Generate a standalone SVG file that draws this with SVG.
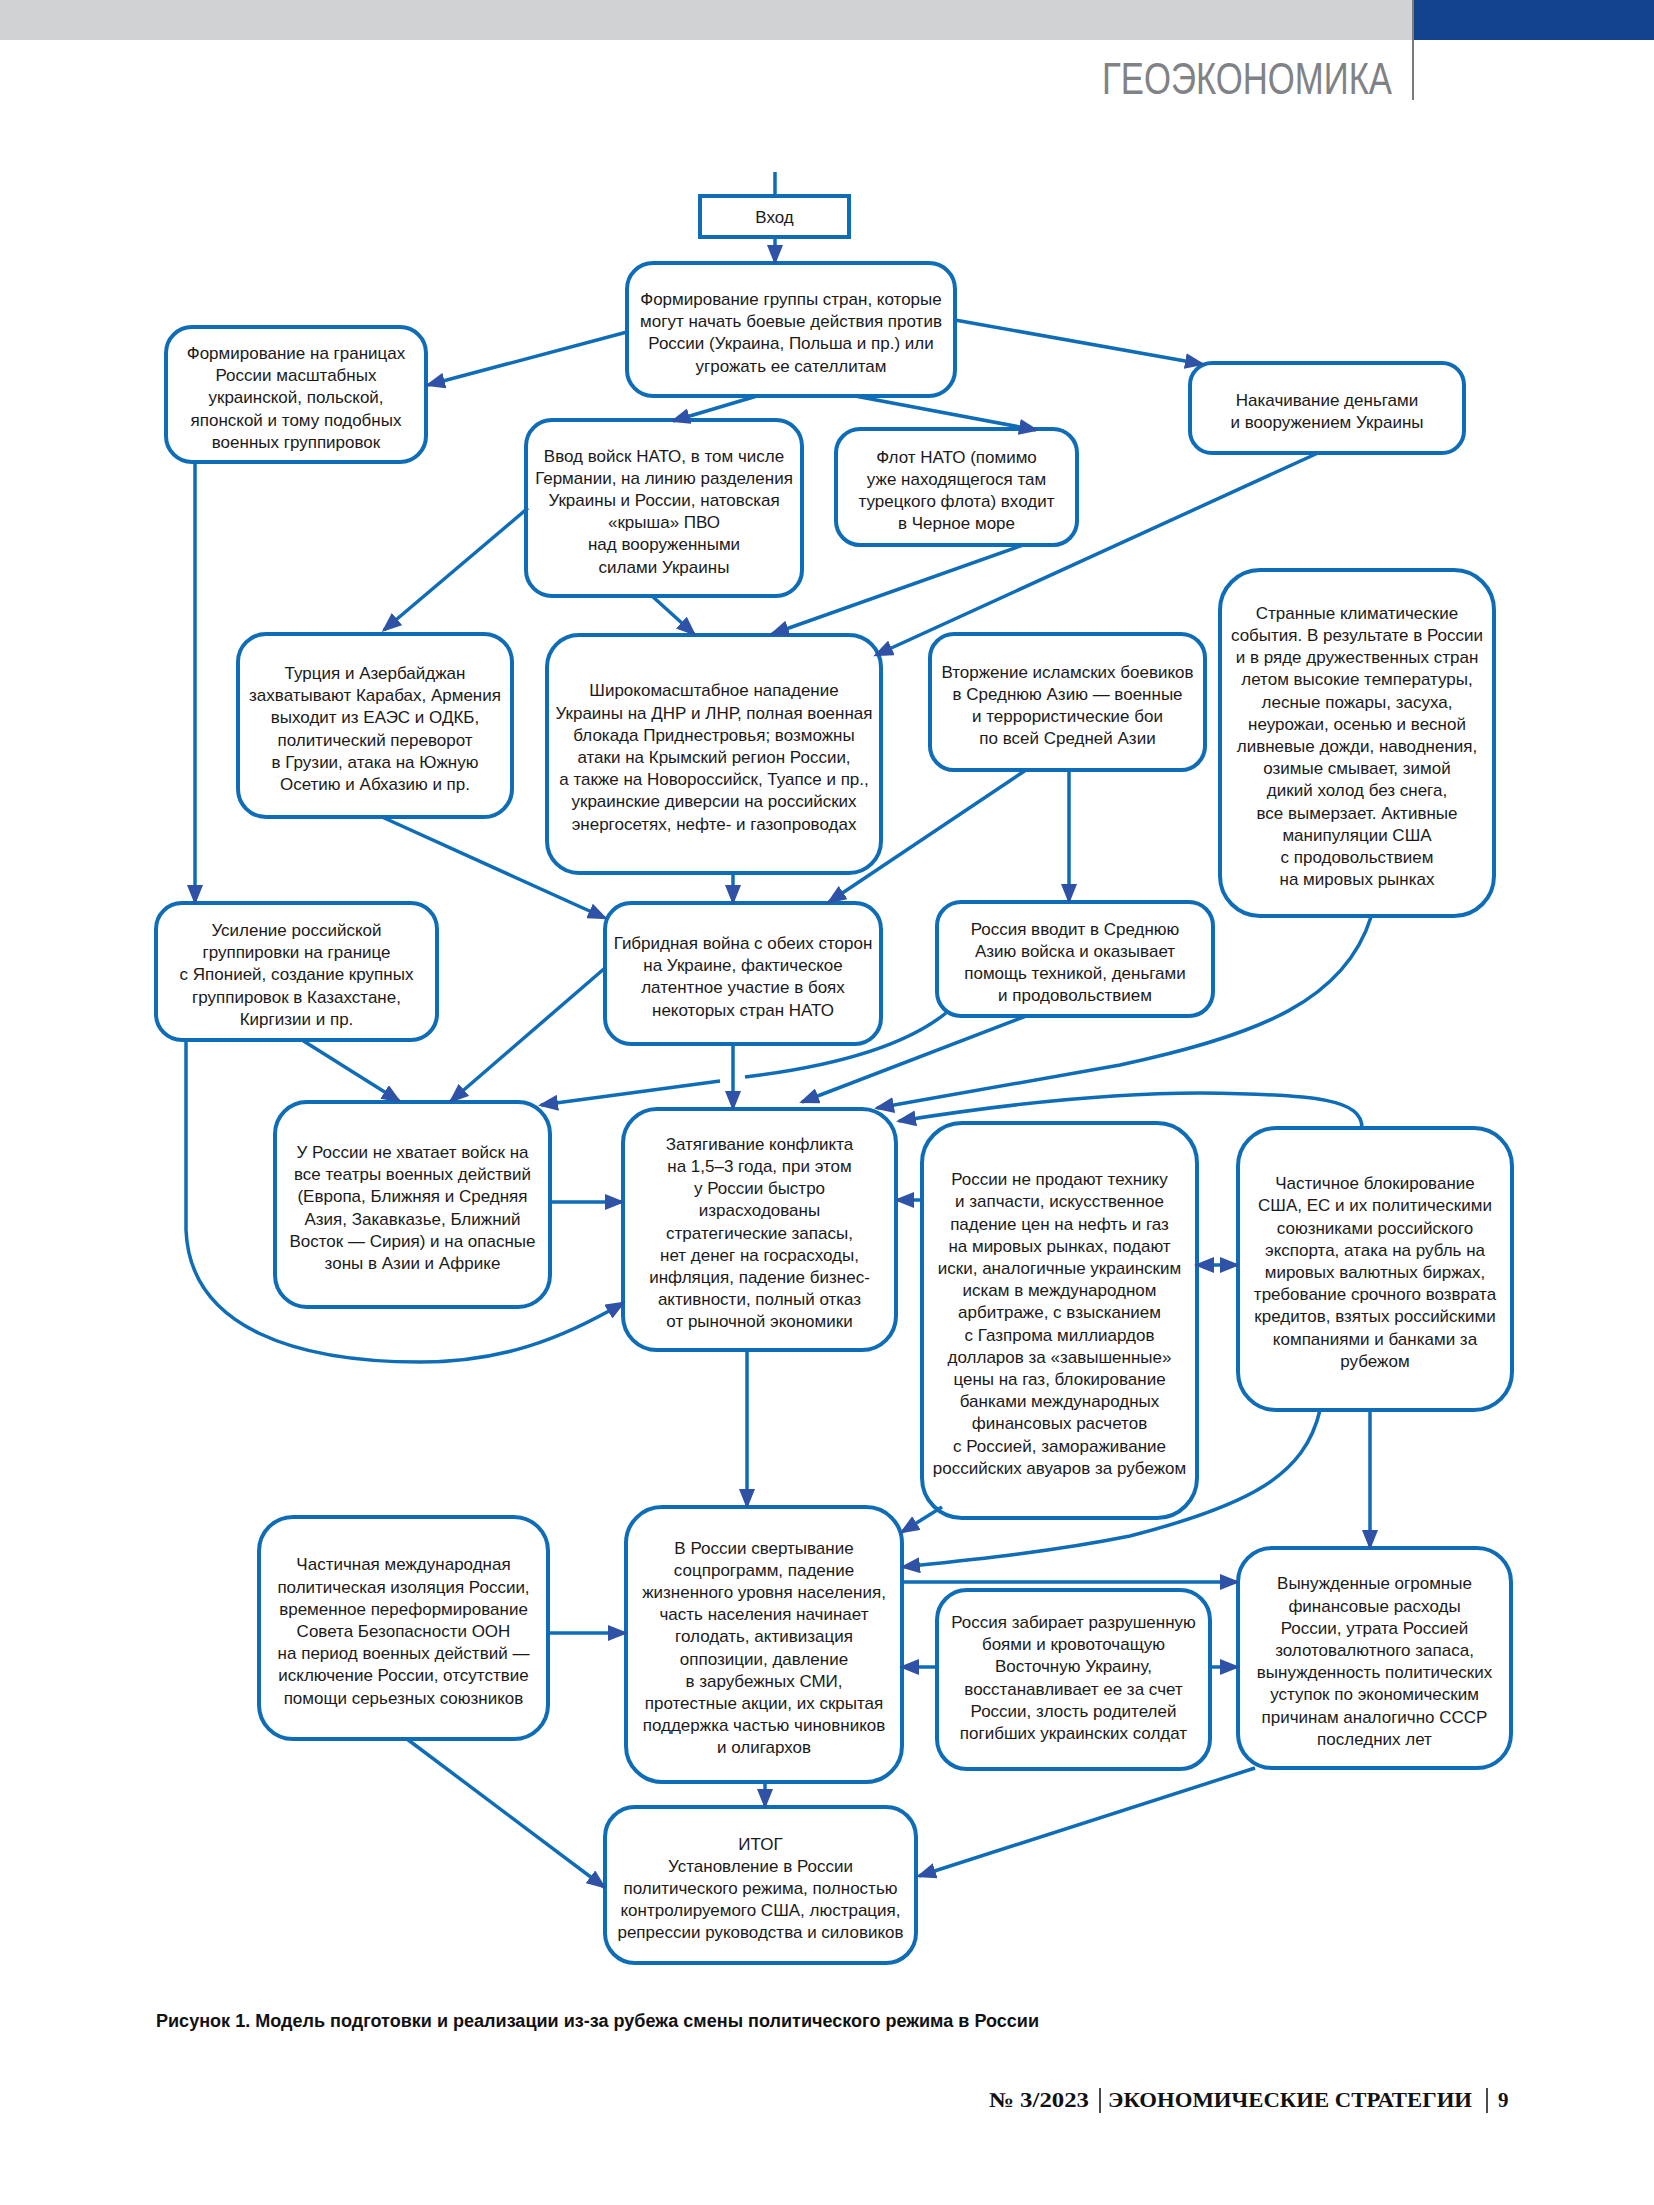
<svg xmlns="http://www.w3.org/2000/svg" width="1654" height="2205" viewBox="0 0 1654 2205">
<style>
.box{fill:#fff;stroke:#0f6db8;stroke-width:4}
.t{font-family:"Liberation Sans",Arial,sans-serif;font-size:17px;fill:#1a1a1a;text-anchor:middle}
.c{fill:none;stroke:#0f6db8;stroke-width:3.5}
.a{marker-end:url(#ah)}
</style>
<defs>
<marker id="ah" markerUnits="userSpaceOnUse" markerWidth="22" markerHeight="16" refX="17" refY="8" orient="auto"><path d="M0,0 L20,8 L0,16 z" fill="#2f52a6"/></marker>
<marker id="as" markerUnits="userSpaceOnUse" markerWidth="22" markerHeight="16" refX="17" refY="8" orient="auto-start-reverse"><path d="M0,0 L20,8 L0,16 z" fill="#2f52a6"/></marker>
</defs>
<rect width="1654" height="2205" fill="#fff"/>
<g id="header">
<rect x="0" y="0" width="1413" height="40" fill="#d1d2d4"/>
<rect x="1413" y="0" width="241" height="40" fill="#12428e"/>
<line x1="1413" y1="0" x2="1413" y2="100" stroke="#7a7a7a" stroke-width="2"/>
<text x="1102" y="94" font-family="Liberation Sans,Arial,sans-serif" font-size="45" fill="#808285" textLength="290" lengthAdjust="spacingAndGlyphs">ГЕОЭКОНОМИКА</text>
</g>
<g id="nodes">
<g id="n_entry"><rect class="box" x="700" y="196" width="149" height="41"/><text class="t" x="774.5" y="223" font-size="18">Вход</text></g>
<g id="n_group"><rect class="box" x="627" y="263" width="328" height="133" rx="26"/><text class="t" y="305"><tspan x="791" dy="0">Формирование группы стран, которые</tspan><tspan x="791" dy="22.2">могут начать боевые действия против</tspan><tspan x="791" dy="22.2">России (Украина, Польша и пр.) или</tspan><tspan x="791" dy="22.2">угрожать ее сателлитам</tspan></text></g>
<g id="n_border"><rect class="box" x="166" y="327" width="260" height="135" rx="26"/><text class="t" y="359"><tspan x="296" dy="0">Формирование на границах</tspan><tspan x="296" dy="22.2">России масштабных</tspan><tspan x="296" dy="22.2">украинской, польской,</tspan><tspan x="296" dy="22.2">японской и тому подобных</tspan><tspan x="296" dy="22.2">военных группировок</tspan></text></g>
<g id="n_pump"><rect class="box" x="1190" y="363" width="274" height="90" rx="22"/><text class="t" y="406"><tspan x="1327" dy="0">Накачивание деньгами</tspan><tspan x="1327" dy="22.2">и вооружением Украины</tspan></text></g>
<g id="n_nato"><rect class="box" x="526" y="420" width="276" height="176" rx="26"/><text class="t" y="461.5"><tspan x="664" dy="0">Ввод войск НАТО, в том числе</tspan><tspan x="664" dy="22.2">Германии, на линию разделения</tspan><tspan x="664" dy="22.2">Украины и России, натовская</tspan><tspan x="664" dy="22.2">«крыша» ПВО</tspan><tspan x="664" dy="22.2">над вооруженными</tspan><tspan x="664" dy="22.2">силами Украины</tspan></text></g>
<g id="n_fleet"><rect class="box" x="836" y="429" width="241" height="116" rx="24"/><text class="t" y="462.7"><tspan x="956.5" dy="0">Флот НАТО (помимо</tspan><tspan x="956.5" dy="22.2">уже находящегося там</tspan><tspan x="956.5" dy="22.2">турецкого флота) входит</tspan><tspan x="956.5" dy="22.2">в Черное море</tspan></text></g>
<g id="n_turkey"><rect class="box" x="238" y="634" width="274" height="183" rx="28"/><text class="t" y="679"><tspan x="375" dy="0">Турция и Азербайджан</tspan><tspan x="375" dy="22.2">захватывают Карабах, Армения</tspan><tspan x="375" dy="22.2">выходит из ЕАЭС и ОДКБ,</tspan><tspan x="375" dy="22.2">политический переворот</tspan><tspan x="375" dy="22.2">в Грузии, атака на Южную</tspan><tspan x="375" dy="22.2">Осетию и Абхазию и пр.</tspan></text></g>
<g id="n_attack"><rect class="box" x="547" y="635" width="334" height="238" rx="32"/><text class="t" y="696.4"><tspan x="714" dy="0">Широкомасштабное нападение</tspan><tspan x="714" dy="22.2">Украины на ДНР и ЛНР, полная военная</tspan><tspan x="714" dy="22.2">блокада Приднестровья; возможны</tspan><tspan x="714" dy="22.2">атаки на Крымский регион России,</tspan><tspan x="714" dy="22.2">а также на Новороссийск, Туапсе и пр.,</tspan><tspan x="714" dy="22.2">украинские диверсии на российских</tspan><tspan x="714" dy="22.2">энергосетях, нефте- и газопроводах</tspan></text></g>
<g id="n_invasion"><rect class="box" x="930" y="634" width="275" height="136" rx="24"/><text class="t" y="677.7"><tspan x="1067.5" dy="0">Вторжение исламских боевиков</tspan><tspan x="1067.5" dy="22.2">в Среднюю Азию — военные</tspan><tspan x="1067.5" dy="22.2">и террористические бои</tspan><tspan x="1067.5" dy="22.2">по всей Средней Азии</tspan></text></g>
<g id="n_climate"><rect class="box" x="1220" y="570" width="274" height="346" rx="40"/><text class="t" y="618.8"><tspan x="1357" dy="0">Странные климатические</tspan><tspan x="1357" dy="22.2">события. В результате в России</tspan><tspan x="1357" dy="22.2">и в ряде дружественных стран</tspan><tspan x="1357" dy="22.2">летом высокие температуры,</tspan><tspan x="1357" dy="22.2">лесные пожары, засуха,</tspan><tspan x="1357" dy="22.2">неурожаи, осенью и весной</tspan><tspan x="1357" dy="22.2">ливневые дожди, наводнения,</tspan><tspan x="1357" dy="22.2">озимые смывает, зимой</tspan><tspan x="1357" dy="22.2">дикий холод без снега,</tspan><tspan x="1357" dy="22.2">все вымерзает. Активные</tspan><tspan x="1357" dy="22.2">манипуляции США</tspan><tspan x="1357" dy="22.2">с продовольствием</tspan><tspan x="1357" dy="22.2">на мировых рынках</tspan></text></g>
<g id="n_japan"><rect class="box" x="156" y="903" width="281" height="137" rx="26"/><text class="t" y="936"><tspan x="296.5" dy="0">Усиление российской</tspan><tspan x="296.5" dy="22.2">группировки на границе</tspan><tspan x="296.5" dy="22.2">с Японией, создание крупных</tspan><tspan x="296.5" dy="22.2">группировок в Казахстане,</tspan><tspan x="296.5" dy="22.2">Киргизии и пр.</tspan></text></g>
<g id="n_hybrid"><rect class="box" x="605" y="903" width="276" height="141" rx="26"/><text class="t" y="949"><tspan x="743" dy="0">Гибридная война с обеих сторон</tspan><tspan x="743" dy="22.2">на Украине, фактическое</tspan><tspan x="743" dy="22.2">латентное участие в боях</tspan><tspan x="743" dy="22.2">некоторых стран НАТО</tspan></text></g>
<g id="n_asia"><rect class="box" x="937" y="902" width="276" height="114" rx="24"/><text class="t" y="934.7"><tspan x="1075" dy="0">Россия вводит в Среднюю</tspan><tspan x="1075" dy="22.2">Азию войска и оказывает</tspan><tspan x="1075" dy="22.2">помощь техникой, деньгами</tspan><tspan x="1075" dy="22.2">и продовольствием</tspan></text></g>
<g id="n_lack"><rect class="box" x="275" y="1102" width="275" height="205" rx="32"/><text class="t" y="1158"><tspan x="412.5" dy="0">У России не хватает войск на</tspan><tspan x="412.5" dy="22.2">все театры военных действий</tspan><tspan x="412.5" dy="22.2">(Европа, Ближняя и Средняя</tspan><tspan x="412.5" dy="22.2">Азия, Закавказье, Ближний</tspan><tspan x="412.5" dy="22.2">Восток — Сирия) и на опасные</tspan><tspan x="412.5" dy="22.2">зоны в Азии и Африке</tspan></text></g>
<g id="n_protract"><rect class="box" x="623" y="1109" width="273" height="241" rx="34"/><text class="t" y="1149.7"><tspan x="759.5" dy="0">Затягивание конфликта</tspan><tspan x="759.5" dy="22.2">на 1,5–3 года, при этом</tspan><tspan x="759.5" dy="22.2">у России быстро</tspan><tspan x="759.5" dy="22.2">израсходованы</tspan><tspan x="759.5" dy="22.2">стратегические запасы,</tspan><tspan x="759.5" dy="22.2">нет денег на госрасходы,</tspan><tspan x="759.5" dy="22.2">инфляция, падение бизнес-</tspan><tspan x="759.5" dy="22.2">активности, полный отказ</tspan><tspan x="759.5" dy="22.2">от рыночной экономики</tspan></text></g>
<g id="n_nosale"><rect class="box" x="922" y="1123" width="275" height="395" rx="40"/><text class="t" y="1185.2"><tspan x="1059.5" dy="0">России не продают технику</tspan><tspan x="1059.5" dy="22.2">и запчасти, искусственное</tspan><tspan x="1059.5" dy="22.2">падение цен на нефть и газ</tspan><tspan x="1059.5" dy="22.2">на мировых рынках, подают</tspan><tspan x="1059.5" dy="22.2">иски, аналогичные украинским</tspan><tspan x="1059.5" dy="22.2">искам в международном</tspan><tspan x="1059.5" dy="22.2">арбитраже, с взысканием</tspan><tspan x="1059.5" dy="22.2">с Газпрома миллиардов</tspan><tspan x="1059.5" dy="22.2">долларов за «завышенные»</tspan><tspan x="1059.5" dy="22.2">цены на газ, блокирование</tspan><tspan x="1059.5" dy="22.2">банками международных</tspan><tspan x="1059.5" dy="22.2">финансовых расчетов</tspan><tspan x="1059.5" dy="22.2">с Россией, замораживание</tspan><tspan x="1059.5" dy="22.2">российских авуаров за рубежом</tspan></text></g>
<g id="n_block"><rect class="box" x="1238" y="1128" width="274" height="282" rx="38"/><text class="t" y="1189.2"><tspan x="1375" dy="0">Частичное блокирование</tspan><tspan x="1375" dy="22.2">США, ЕС и их политическими</tspan><tspan x="1375" dy="22.2">союзниками российского</tspan><tspan x="1375" dy="22.2">экспорта, атака на рубль на</tspan><tspan x="1375" dy="22.2">мировых валютных биржах,</tspan><tspan x="1375" dy="22.2">требование срочного возврата</tspan><tspan x="1375" dy="22.2">кредитов, взятых российскими</tspan><tspan x="1375" dy="22.2">компаниями и банками за</tspan><tspan x="1375" dy="22.2">рубежом</tspan></text></g>
<g id="n_isolation"><rect class="box" x="259" y="1517" width="289" height="222" rx="34"/><text class="t" y="1570.4"><tspan x="403.5" dy="0">Частичная международная</tspan><tspan x="403.5" dy="22.2">политическая изоляция России,</tspan><tspan x="403.5" dy="22.2">временное переформирование</tspan><tspan x="403.5" dy="22.2">Совета Безопасности ООН</tspan><tspan x="403.5" dy="22.2">на период военных действий —</tspan><tspan x="403.5" dy="22.2">исключение России, отсутствие</tspan><tspan x="403.5" dy="22.2">помощи серьезных союзников</tspan></text></g>
<g id="n_social"><rect class="box" x="626" y="1507" width="276" height="275" rx="36"/><text class="t" y="1553.6"><tspan x="764" dy="0">В России свертывание</tspan><tspan x="764" dy="22.2">соцпрограмм, падение</tspan><tspan x="764" dy="22.2">жизненного уровня населения,</tspan><tspan x="764" dy="22.2">часть населения начинает</tspan><tspan x="764" dy="22.2">голодать, активизация</tspan><tspan x="764" dy="22.2">оппозиции, давление</tspan><tspan x="764" dy="22.2">в зарубежных СМИ,</tspan><tspan x="764" dy="22.2">протестные акции, их скрытая</tspan><tspan x="764" dy="22.2">поддержка частью чиновников</tspan><tspan x="764" dy="22.2">и олигархов</tspan></text></g>
<g id="n_take"><rect class="box" x="937" y="1590" width="273" height="179" rx="30"/><text class="t" y="1628"><tspan x="1073.5" dy="0">Россия забирает разрушенную</tspan><tspan x="1073.5" dy="22.2">боями и кровоточащую</tspan><tspan x="1073.5" dy="22.2">Восточную Украину,</tspan><tspan x="1073.5" dy="22.2">восстанавливает ее за счет</tspan><tspan x="1073.5" dy="22.2">России, злость родителей</tspan><tspan x="1073.5" dy="22.2">погибших украинских солдат</tspan></text></g>
<g id="n_forced"><rect class="box" x="1238" y="1548" width="273" height="220" rx="34"/><text class="t" y="1589.3"><tspan x="1374.5" dy="0">Вынужденные огромные</tspan><tspan x="1374.5" dy="22.2">финансовые расходы</tspan><tspan x="1374.5" dy="22.2">России, утрата Россией</tspan><tspan x="1374.5" dy="22.2">золотовалютного запаса,</tspan><tspan x="1374.5" dy="22.2">вынужденность политических</tspan><tspan x="1374.5" dy="22.2">уступок по экономическим</tspan><tspan x="1374.5" dy="22.2">причинам аналогично СССР</tspan><tspan x="1374.5" dy="22.2">последних лет</tspan></text></g>
<g id="n_result"><rect class="box" x="605" y="1807" width="311" height="156" rx="30"/><text class="t" y="1849.6"><tspan x="760.5" dy="0">ИТОГ</tspan><tspan x="760.5" dy="22.2">Установление в России</tspan><tspan x="760.5" dy="22.2">политического режима, полностью</tspan><tspan x="760.5" dy="22.2">контролируемого США, люстрация,</tspan><tspan x="760.5" dy="22.2">репрессии руководства и силовиков</tspan></text></g>
</g>
<g id="connectors">
<path class="c" d="M775,172 V196"/>
<path class="c a" d="M775,237 V262"/>
<path class="c a" d="M627,332 L428,385"/>
<path class="c a" d="M955,320 L1202,364"/>
<path class="c a" d="M757,396 L673,421"/>
<path class="c a" d="M855,396 L1036,430"/>
<path class="c a" d="M195,462 V902"/>
<path class="c a" d="M528,508 L384,630"/>
<path class="c a" d="M652,596 L694,634"/>
<path class="c a" d="M1023,545 L772,634"/>
<path class="c a" d="M1318,453 L876,655"/>
<path class="c a" d="M382,817 L605,918"/>
<path class="c a" d="M733,873 V902"/>
<path class="c a" d="M1026,770 L829,902"/>
<path class="c a" d="M1069,770 V901"/>
<path class="c a" d="M302,1040 L399,1101"/>
<path class="c a" d="M605,968 L451,1101"/>
<path class="c a" d="M733,1044 V1108"/>
<path class="c" d="M946,1013 C900,1050 820,1068 745,1077"/>
<path class="c a" d="M720,1081 L541,1105"/>
<path class="c a" d="M1026,1016 L802,1102"/>
<path class="c a" d="M1371,917 C1345,1000 1260,1035 1120,1065 L877,1108"/>
<path class="c a" d="M1362,1128 C1362,1100 1320,1094 1200,1093 C1100,1093 1000,1105 899,1121"/>
<path class="c a" d="M550,1202 H622"/>
<path class="c a" d="M922,1200 H897"/>
<path class="c a" d="M1197,1265 H1237" marker-start="url(#as)"/>
<path class="c a" d="M186,1041 V1230 C190,1330 300,1362 420,1362 C500,1362 560,1340 623,1303"/>
<path class="c a" d="M747,1350 V1506"/>
<path class="c a" d="M942,1507 L902,1532"/>
<path class="c a" d="M1320,1410 C1305,1475 1250,1505 1130,1536 C1050,1552 970,1560 903,1567"/>
<path class="c a" d="M1370,1410 V1547"/>
<path class="c a" d="M902,1582 H1237"/>
<path class="c a" d="M937,1667 H902"/>
<path class="c a" d="M1210,1667 H1237"/>
<path class="c a" d="M548,1633 H625"/>
<path class="c a" d="M407,1739 L604,1887"/>
<path class="c a" d="M765,1782 V1806"/>
<path class="c a" d="M1255,1768 L919,1876"/>
</g>
<g id="caption">
<text x="156" y="2027" font-family="Liberation Sans,Arial,sans-serif" font-size="18" font-weight="bold" fill="#111" textLength="883" lengthAdjust="spacingAndGlyphs">Рисунок 1. Модель подготовки и реализации из-за рубежа смены политического режима в России</text>
</g>
<g id="footer">
<text x="989" y="2107" font-family="Liberation Serif,Times New Roman,serif" font-size="21" font-weight="bold" fill="#111" textLength="100" lengthAdjust="spacingAndGlyphs">№ 3/2023</text>
<line x1="1100" y1="2088" x2="1100" y2="2113" stroke="#111" stroke-width="1.5"/>
<text x="1108" y="2107" font-family="Liberation Serif,Times New Roman,serif" font-size="21" font-weight="bold" fill="#111" textLength="364" lengthAdjust="spacingAndGlyphs">ЭКОНОМИЧЕСКИЕ СТРАТЕГИИ</text>
<line x1="1487" y1="2088" x2="1487" y2="2113" stroke="#111" stroke-width="1.5"/>
<text x="1498" y="2107" font-family="Liberation Serif,Times New Roman,serif" font-size="21" font-weight="bold" fill="#111">9</text>
</g>
</svg>
